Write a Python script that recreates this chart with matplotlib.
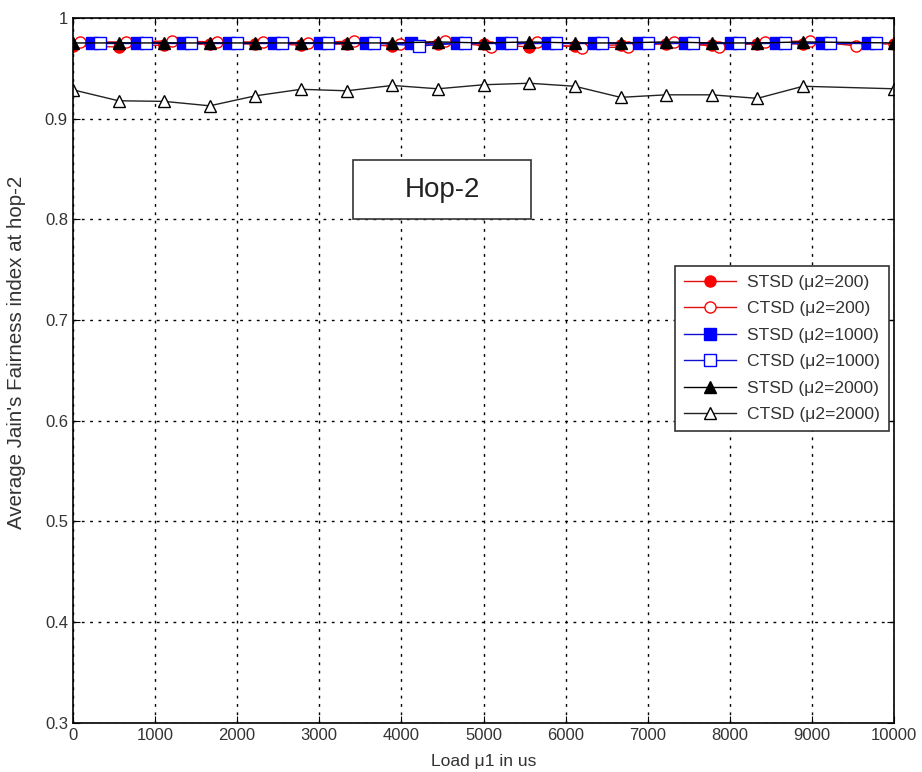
import matplotlib
matplotlib.use("Agg")
import matplotlib.pyplot as plt
from matplotlib.patches import Rectangle
from matplotlib.ticker import FormatStrFormatter

plt.rcParams["font.family"] = ["Liberation Sans", "DejaVu Sans"]

# x positions of the samples (load mu1 in us)
x_main = [0, 556, 1111, 1667, 2222, 2778, 3333, 3889, 4444, 5000,
          5556, 6111, 6667, 7222, 7778, 8333, 8889, 10000]
x_ctsd200 = [90, 646, 1201, 1757, 2312, 2868, 3423, 3979, 4534, 5090,
             5646, 6201, 6757, 7312, 7868, 8423, 8979, 9534]
x_stsd1000 = [230, 786, 1341, 1897, 2452, 3008, 3563, 4119, 4674, 5230,
              5786, 6341, 6897, 7452, 8008, 8563, 9119, 9674]
x_ctsd1000 = [330, 886, 1441, 1997, 2552, 3108, 3663, 4219, 4774, 5330,
              5886, 6441, 6997, 7552, 8108, 8663, 9219, 9774]

stsd_200 = [0.972, 0.971, 0.973, 0.974, 0.974, 0.973, 0.974, 0.972, 0.974,
            0.974, 0.971, 0.972, 0.973, 0.974, 0.973, 0.974, 0.974, 0.974]
ctsd_200 = [0.976, 0.976, 0.977, 0.976, 0.976, 0.975, 0.977, 0.974, 0.977,
            0.971, 0.976, 0.970, 0.971, 0.976, 0.971, 0.976, 0.977, 0.972]
stsd_1000 = [0.975, 0.975, 0.975, 0.975, 0.975, 0.975, 0.975, 0.975, 0.975,
             0.975, 0.975, 0.975, 0.975, 0.975, 0.975, 0.975, 0.975, 0.975]
ctsd_1000 = [0.975, 0.975, 0.975, 0.975, 0.975, 0.975, 0.975, 0.972, 0.975,
             0.975, 0.975, 0.975, 0.975, 0.975, 0.975, 0.975, 0.975, 0.975]
stsd_2000 = [0.975, 0.975, 0.975, 0.975, 0.975, 0.975, 0.975, 0.975, 0.976,
             0.975, 0.976, 0.975, 0.975, 0.976, 0.975, 0.975, 0.976, 0.975]
ctsd_2000 = [0.9285, 0.9176, 0.917, 0.9126, 0.9225, 0.929, 0.9275, 0.9328, 0.9295,
             0.9335, 0.935, 0.932, 0.921, 0.9235, 0.9235, 0.920, 0.932, 0.9295]

fig = plt.figure(figsize=(9.22, 7.72), dpi=100)
ax = fig.add_axes([0.079, 0.0635, 0.891, 0.9135])

ax.plot(x_main, stsd_200, "-o", color="#e01010", mfc="#ff0000", mec="#ff0000",
        ms=8, lw=1, label="STSD (\u03bc2=200)")
ax.plot(x_ctsd200, ctsd_200, "-o", color="#e01010", mfc="white", mec="#ff0000",
        ms=8, lw=1, mew=1, label="CTSD (\u03bc2=200)")
ax.plot(x_stsd1000, stsd_1000, "-s", color="#1010d0", mfc="#0000ff", mec="#0000ff",
        ms=8, lw=1, label="STSD (\u03bc2=1000)")
ax.plot(x_ctsd1000, ctsd_1000, "-s", color="#1010d0", mfc="white", mec="#0000ff",
        ms=8, lw=1, mew=1, label="CTSD (\u03bc2=1000)")
ax.plot(x_main, stsd_2000, "-^", color="black", mfc="black", mec="black",
        ms=8.5, lw=1, label="STSD (\u03bc2=2000)")
ax.plot(x_main, ctsd_2000, "-^", color="#222222", mfc="white", mec="black",
        ms=8.5, lw=1, mew=1, label="CTSD (\u03bc2=2000)")

ax.set_xlim(0, 10000)
ax.set_ylim(0.3, 1.0)
ax.set_xticks(range(0, 10001, 1000))
ax.set_yticks([0.3, 0.4, 0.5, 0.6, 0.7, 0.8, 0.9, 1.0])
ax.yaxis.set_major_formatter(FormatStrFormatter("%g"))
ax.grid(True, color="black", linestyle=(0, (2, 4)), linewidth=1)
ax.tick_params(direction="in", top=True, right=True, length=5,
               labelsize=12, labelcolor="#333333")
for s in ax.spines.values():
    s.set_linewidth(1.2)

ax.set_xlabel("Load \u03bc1 in us", fontsize=12.6, color="#333333", labelpad=8)
ax.set_ylabel("Average Jain's Fairness index at hop-2", fontsize=14.8,
              color="#333333")
ax.yaxis.set_label_coords(-0.057, 0.525)

# annotation box
ax.add_patch(Rectangle((3410, 0.8), 2168, 0.059, fc="white", ec="#333333",
                       lw=1.2, zorder=3))
ax.text(4494, 0.829, "Hop-2", fontsize=20, color="#222222", ha="center",
        va="center", zorder=4)

leg = ax.legend(loc="upper right", bbox_to_anchor=(0.993, 0.648), fontsize=12.6,
                handlelength=3.0, fancybox=False, framealpha=1, edgecolor="#333333",
                borderaxespad=0, labelspacing=0.64, handletextpad=0.6,
                borderpad=0.5)
leg.get_frame().set_linewidth(1.2)
for t in leg.get_texts():
    t.set_color("#333333")

fig.savefig("out.png", dpi=100)
